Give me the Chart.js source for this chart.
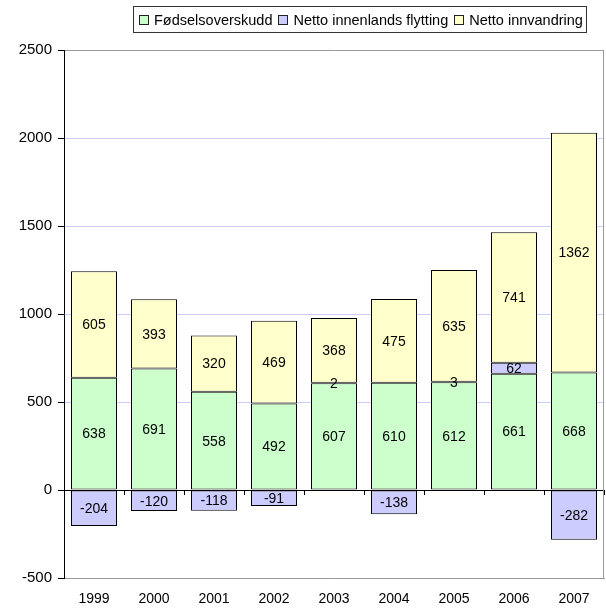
<!DOCTYPE html>
<html><head><meta charset="utf-8">
<script src="https://cdn.jsdelivr.net/npm/chart.js@4/dist/chart.umd.min.js"></script>
<style>
html,body{margin:0;padding:0;background:#fff;}
#wrap{position:relative;width:606px;height:608px;}
#legend{position:absolute;left:133px;top:6px;height:27px;border:1px solid #333;display:flex;align-items:center;padding:0 3px 0 5px;font-family:"Liberation Sans",Arial,sans-serif;font-size:14.5px;white-space:nowrap;box-sizing:border-box;color:#000;}
.item{display:flex;align-items:center;margin-right:6px}
.item:last-child{margin-right:0}
.sw{width:10px;height:10px;border:1px solid #222;margin-right:5px;box-sizing:border-box}
</style></head>
<body><div id="wrap"><canvas id="c" width="606" height="608"></canvas><div id="legend"></div></div>
<script>
const years = ['1999','2000','2001','2002','2003','2004','2005','2006','2007'];
const fodselsoverskudd = [638, 691, 558, 492, 607, 610, 612, 661, 668];
const innenlandsFlytting = [-204, -120, -118, -91, 2, -138, 3, 62, -282];
const innvandring = [605, 393, 320, 469, 368, 475, 635, 741, 1362];
const seriesNames = ['Fødselsoverskudd', 'Netto innenlands flytting', 'Netto innvandring'];
const seriesColors = ['#ccffcc', '#ccccff', '#ffffcc'];
const yMin = -500, yMax = 2500, yStep = 500;

const FONT = '"Liberation Sans", Arial, sans-serif';

const legend = document.getElementById('legend');
seriesNames.forEach((n, i) => {
  const it = document.createElement('div'); it.className = 'item';
  const sw = document.createElement('span'); sw.className = 'sw'; sw.style.background = seriesColors[i];
  const t = document.createElement('span'); t.textContent = n;
  it.appendChild(sw); it.appendChild(t); legend.appendChild(it);
});

const labelPlugin = {
  id: 'barLabels',
  afterDatasetsDraw(chart) {
    const ctx = chart.ctx;
    ctx.save();
    ctx.font = '14px ' + FONT;
    ctx.fillStyle = '#000';
    ctx.textAlign = 'center';
    ctx.textBaseline = 'middle';
    chart.data.datasets.forEach((ds, di) => {
      const meta = chart.getDatasetMeta(di);
      meta.data.forEach((el, i) => {
        const v = ds.data[i];
        if (v === null || v === undefined) return;
        ctx.fillText(String(v), el.x, (el.y + el.base) / 2 + 1);
      });
    });
    ctx.restore();
  }
};

const framePlugin = {
  id: 'frame',
  beforeDatasetsDraw(chart) {
    const a = chart.chartArea, ctx = chart.ctx;
    ctx.save();
    ctx.strokeStyle = '#999';
    ctx.lineWidth = 1;
    ctx.beginPath();
    ctx.moveTo(Math.round(a.right) - 0.5, a.top);
    ctx.lineTo(Math.round(a.right) - 0.5, a.bottom);
    ctx.stroke();
    ctx.restore();
  }
};

new Chart(document.getElementById('c'), {
  type: 'bar',
  data: {
    labels: years,
    datasets: [
      { label: seriesNames[0], data: fodselsoverskudd, backgroundColor: seriesColors[0] },
      { label: seriesNames[1], data: innenlandsFlytting, backgroundColor: seriesColors[1] },
      { label: seriesNames[2], data: innvandring, backgroundColor: seriesColors[2] }
    ].map(d => Object.assign(d, { borderColor: '#000', borderWidth: 1, borderSkipped: false, barPercentage: 46 / 60, categoryPercentage: 1 }))
  },
  options: {
    responsive: false,
    animation: false,
    events: [],
    layout: { padding: { top: 50, right: 2, left: 0, bottom: 0 } },
    plugins: { legend: { display: false }, tooltip: { enabled: false } },
    scales: {
      x: {
        stacked: true,
        position: 'bottom',
        grid: { display: false, drawTicks: false },
        border: { display: true, color: '#999', width: 1 },
        ticks: { color: '#000', font: { family: FONT, size: 14 }, padding: 13, maxRotation: 0 },
        afterFit(s) { s.height = 30; s.paddingLeft = 0; s.paddingRight = 0; }
      },
      x2: {
        type: 'category',
        labels: years,
        position: { y: 0 },
        offset: true,
        grid: { offset: true, drawOnChartArea: false, drawTicks: true, tickLength: 4, color: '#000' },
        border: { display: true, color: '#000', width: 1 },
        ticks: { display: false }
      },
      y: {
        stacked: true,
        min: yMin, max: yMax,
        ticks: { stepSize: yStep, color: '#000', font: { family: FONT, size: 15 }, padding: 6,
                 callback: (v) => String(v) },
        grid: {
          tickLength: 6,
          tickColor: '#000',
          color: (c) => {
            const v = c.tick ? c.tick.value : null;
            if (v === 0) return '#000';
            if (v === yMax || v === yMin) return '#999';
            return '#ccccff';
          }
        },
        border: { display: true, color: '#000', width: 1 },
        afterFit(s) { s.width = 64; s.paddingTop = 0; s.paddingBottom = 0; }
      }
    }
  },
  plugins: [framePlugin, labelPlugin]
});
</script>
</body></html>
